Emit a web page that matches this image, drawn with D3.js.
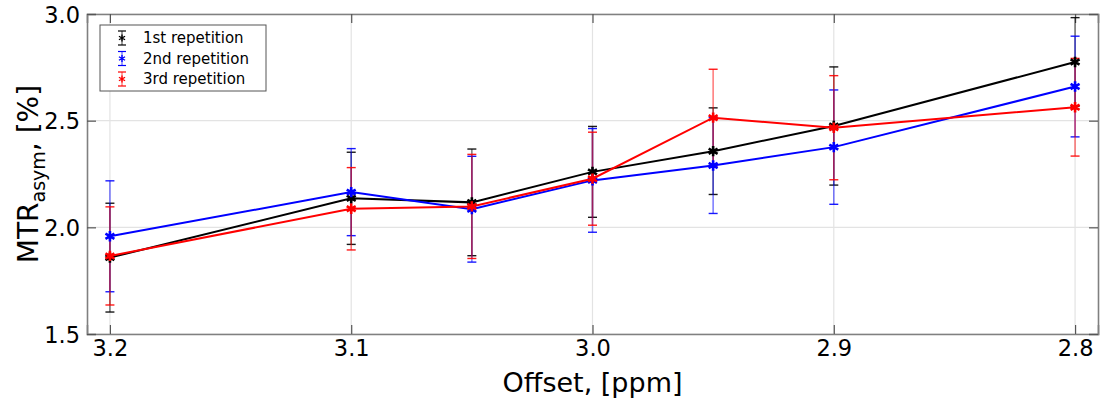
<!DOCTYPE html>
<html>
<head>
<meta charset="utf-8">
<script src="https://cdn.jsdelivr.net/npm/d3@7"></script>
<style>
  body { margin: 0; background: #fff; }
  text { font-family: "DejaVu Sans", sans-serif; }
</style>
</head>
<body>
<div id="chart"></div>
<script>
const offsets = [3.2, 3.1, 3.05, 3.0, 2.95, 2.9, 2.8];
const rep1 = [1.858, 2.136, 2.117, 2.26, 2.357, 2.475, 2.775];
const rep1Err = [0.255, 0.216, 0.25, 0.213, 0.203, 0.277, 0.208];
const rep2 = [1.958, 2.165, 2.085, 2.22, 2.29, 2.376, 2.66];
const rep2Err = [0.26, 0.204, 0.248, 0.243, 0.225, 0.268, 0.236];
const rep3 = [1.866, 2.087, 2.098, 2.228, 2.514, 2.467, 2.563];
const rep3Err = [0.23, 0.193, 0.244, 0.218, 0.227, 0.244, 0.229];
const seriesNames = ["1st repetition", "2nd repetition", "3rd repetition"];
const xTicks = [3.2, 3.1, 3.0, 2.9, 2.8];
const yTicks = [1.5, 2.0, 2.5, 3.0];

const colors = ["#000000", "#0000ff", "#ff0000"];
const series = [rep1, rep2, rep3].map((vals, i) => ({
  name: seriesNames[i],
  color: colors[i],
  points: offsets.map((o, j) => ({ x: o, y: vals[j], e: [rep1Err, rep2Err, rep3Err][i][j] }))
}));

const W = 1108, H = 404;
const margin = { top: 14, right: 10, bottom: 70, left: 87 };
const width = W - margin.left - margin.right,
      height = H - margin.top - margin.bottom;

const svg = d3.select("#chart").append("svg")
  .attr("width", W).attr("height", H);
const g = svg.append("g").attr("transform", `translate(${margin.left},${margin.top})`);

const x = d3.scaleLinear().domain([3.2095, 2.7905]).range([0, width]);
const y = d3.scaleLinear().domain([1.5, 3.0]).range([height, 0]);

// grid
g.append("g").selectAll("line").data(xTicks).enter().append("line")
  .attr("x1", d => x(d)).attr("x2", d => x(d)).attr("y1", 0).attr("y2", height)
  .attr("stroke", "#e3e3e3").attr("stroke-width", 1.2);
g.append("g").selectAll("line").data(yTicks).enter().append("line")
  .attr("y1", d => y(d)).attr("y2", d => y(d)).attr("x1", 0).attr("x2", width)
  .attr("stroke", "#e3e3e3").attr("stroke-width", 1.2);

// axes with inward ticks
const tickLen = 9;
const bottomAxis = g.append("g").attr("transform", `translate(0,${height})`)
  .call(d3.axisBottom(x).tickValues(xTicks).tickFormat(d3.format(".1f")).tickSize(-tickLen).tickPadding(6));
const topAxis = g.append("g")
  .call(d3.axisTop(x).tickValues(xTicks).tickFormat("").tickSize(-tickLen));
const leftAxis = g.append("g")
  .call(d3.axisLeft(y).tickValues(yTicks).tickFormat(d3.format(".1f")).tickSize(-tickLen).tickPadding(7));
const rightAxis = g.append("g").attr("transform", `translate(${width},0)`)
  .call(d3.axisRight(y).tickValues(yTicks).tickFormat("").tickSize(-tickLen));

[bottomAxis, topAxis, leftAxis, rightAxis].forEach(a => {
  a.select(".domain").attr("stroke", "#808080").attr("stroke-width", 1.6);
  a.selectAll(".tick line").attr("stroke", "#555").attr("stroke-width", 1.2);
  a.selectAll(".tick text").attr("fill", "#000").style("font-size", "22.5px");
});
leftAxis.selectAll(".tick text").attr("dy", "0.36em");
bottomAxis.selectAll(".tick text").attr("dy", "0.72em");

// axis labels
svg.append("text")
  .attr("x", margin.left + width / 2).attr("y", 392)
  .attr("text-anchor", "middle").style("font-size", "27px")
  .text("Offset, [ppm]");

const yl = svg.append("text")
  .attr("transform", `translate(38,${margin.top + height / 2}) rotate(-90)`)
  .attr("text-anchor", "middle").style("font-size", "28px");
yl.append("tspan").text("MTR");
yl.append("tspan").attr("dy", 7).style("font-size", "19px").text("asym");
yl.append("tspan").attr("dy", -7).text(", [%]");

// series: all error bars first, then lines and markers
const line = d3.line().x(d => x(d.x)).y(d => y(d.y));
const cap = 4.5;
const star = d3.symbol().type(d3.symbolAsterisk).size(75);

series.forEach(s => {
  const eb = g.append("g").attr("stroke", s.color).attr("stroke-opacity", 0.5).attr("stroke-width", 1.6);
  eb.selectAll("line.bar").data(s.points).enter().append("line")
    .attr("x1", d => x(d.x)).attr("x2", d => x(d.x))
    .attr("y1", d => y(d.y - d.e)).attr("y2", d => y(d.y + d.e));
  eb.selectAll("line.top").data(s.points).enter().append("line")
    .attr("x1", d => x(d.x) - cap).attr("x2", d => x(d.x) + cap)
    .attr("y1", d => y(d.y + d.e)).attr("y2", d => y(d.y + d.e))
    .attr("stroke-opacity", 0.9).attr("stroke-width", 1.4);
  eb.selectAll("line.bot").data(s.points).enter().append("line")
    .attr("x1", d => x(d.x) - cap).attr("x2", d => x(d.x) + cap)
    .attr("y1", d => y(d.y - d.e)).attr("y2", d => y(d.y - d.e))
    .attr("stroke-opacity", 0.9).attr("stroke-width", 1.4);
});

series.forEach(s => {
  const sg = g.append("g");
  sg.append("path").datum(s.points)
    .attr("d", line).attr("fill", "none")
    .attr("stroke", s.color).attr("stroke-width", 2);

  sg.selectAll("path.mk").data(s.points).enter().append("path")
    .attr("class", "mk")
    .attr("transform", d => `translate(${x(d.x)},${y(d.y)})`)
    .attr("d", star).attr("fill", "none")
    .attr("stroke", s.color).attr("stroke-width", 2.6);
});

// legend
const lg = svg.append("g").attr("transform", "translate(100,25)");
lg.append("rect").attr("width", 166).attr("height", 66)
  .attr("fill", "#fff").attr("stroke", "#555").attr("stroke-width", 1);
series.forEach((s, i) => {
  const row = lg.append("g").attr("transform", `translate(22,${13 + i * 20.5})`);
  row.append("line").attr("x1", 0).attr("x2", 0).attr("y1", -7).attr("y2", 7)
    .attr("stroke", s.color).attr("stroke-opacity", 0.55).attr("stroke-width", 1.4);
  [-7, 7].forEach(yy => row.append("line").attr("x1", -4).attr("x2", 4).attr("y1", yy).attr("y2", yy)
    .attr("stroke", s.color).attr("stroke-width", 1.2));
  row.append("path").attr("d", d3.symbol().type(d3.symbolAsterisk).size(35)())
    .attr("fill", "none").attr("stroke", s.color).attr("stroke-width", 1.3);
  row.append("text").attr("x", 21).attr("y", 0).attr("dy", "0.36em")
    .style("font-size", "15px").text(s.name);
});
</script>
</body>
</html>
